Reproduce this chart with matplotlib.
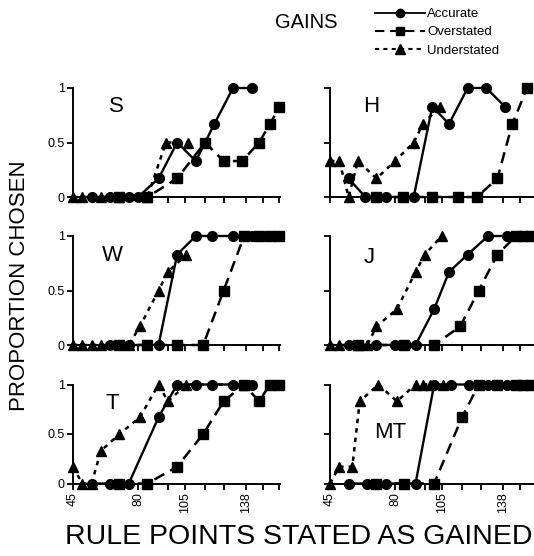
import matplotlib
matplotlib.use("Agg")
import matplotlib.pyplot as plt

plt.rcParams['font.family'] = ['Liberation Sans', 'DejaVu Sans']

# ---- data (rule points stated as gained, proportion chosen) ----
panels = ["S", "H", "W", "J", "T", "MT"]

acc_x = {
    "S": [55, 65, 75, 80, 91, 101, 111, 121, 131, 141],
    "H": [55, 64, 75, 90, 100, 109, 119, 129, 139],
    "W": [65, 75, 85, 91, 101, 111, 120, 131, 141],
    "J": [55, 70, 80, 86, 91, 101, 109, 119, 130, 140],
    "T": [55, 65, 75, 91, 101, 111, 120, 131, 141],
    "MT": [55, 65, 75, 91, 101, 110, 120, 130, 140],
}
acc_y = {
    "S": [0, 0, 0, 0, 0.17, 0.5, 0.33, 0.67, 1, 1],
    "H": [0.17, 0, 0, 0, 0.83, 0.67, 1, 1, 0.83],
    "W": [0, 0, 0, 0, 0.83, 1, 1, 1, 1],
    "J": [0, 0, 0, 0, 0, 0.33, 0.67, 0.83, 1, 1],
    "T": [0, 0, 0, 0.67, 1, 1, 1, 1, 1],
    "MT": [0, 0, 0, 0, 1, 1, 1, 1, 1],
}

over_x = {
    "S": [70, 85, 101, 116, 126, 136, 145, 151, 156],
    "H": [70, 84, 100, 114, 124, 135, 143, 151],
    "W": [70, 85, 101, 115, 126, 137, 145, 151, 156],
    "J": [60, 85, 101, 115, 125, 135, 145, 149, 153],
    "T": [70, 85, 101, 115, 126, 137, 145, 151, 156],
    "MT": [70, 85, 101, 116, 125, 135, 145, 149, 153],
}
over_y = {
    "S": [0, 0, 0.17, 0.5, 0.33, 0.33, 0.5, 0.67, 0.83],
    "H": [0, 0, 0, 0, 0, 0.17, 0.67, 1],
    "W": [0, 0, 0, 0, 0.5, 1, 1, 1, 1],
    "J": [0, 0, 0, 0.17, 0.5, 0.83, 1, 1, 1],
    "T": [0, 0, 0.17, 0.5, 0.83, 1, 0.83, 1, 1],
    "MT": [0, 0, 0, 0.67, 1, 1, 1, 1, 1],
}

under_x = {
    "S": [45, 50, 60, 70, 85, 95, 107],
    "H": [45, 50, 55, 60, 70, 80, 90, 95, 104],
    "W": [45, 50, 55, 60, 75, 81, 91, 96, 106],
    "J": [45, 50, 60, 65, 70, 81, 91, 96, 105],
    "T": [45, 50, 55, 60, 70, 81, 91, 96, 106, 137],
    "MT": [45, 50, 57, 61, 71, 81, 91, 95, 99, 106],
}
under_y = {
    "S": [0, 0, 0, 0, 0, 0.5, 0.5],
    "H": [0.33, 0.33, 0, 0.33, 0.17, 0.33, 0.5, 0.67, 0.83],
    "W": [0, 0, 0, 0, 0, 0.17, 0.5, 0.67, 0.83],
    "J": [0, 0, 0, 0, 0.17, 0.33, 0.67, 0.83, 1],
    "T": [0.17, 0, 0, 0.33, 0.5, 0.67, 1, 0.83, 1, 1],
    "MT": [0, 0.17, 0.17, 0.83, 1, 0.83, 1, 1, 1, 1],
}

xticks_major = [45, 80, 105, 138]
xticks_minor = [86, 96, 116, 126, 147, 156]
yticks = [0, 0.5, 1]
ytick_labels = ["0", "0.5", "1"]

W, H = 534, 556
fig = plt.figure(figsize=(W / 100, H / 100), dpi=100)

# axes boxes in pixels: (left, y of 0, y of 1)
cols = [73, 330]
rows = [(197, 88), (345, 236), (483.5, 384.5)]
axw = 207

label_pos = {"S": (0.21, 0.83), "H": (0.2, 0.83), "W": (0.19, 0.82),
             "J": (0.19, 0.8), "T": (0.19, 0.81), "MT": (0.29, 0.52)}

for i, name in enumerate(panels):
    r, c = divmod(i, 2)
    y0, y1 = rows[r]
    ax = fig.add_axes([cols[c] / W, 1 - y0 / H, axw / W, (y0 - y1) / H])
    ax.plot(acc_x[name], acc_y[name], '-', color='black', lw=1.7,
            marker='o', ms=7, clip_on=False, zorder=4)
    ax.plot(over_x[name], over_y[name], color='black', lw=1.8, dashes=(4.5, 2.7),
            marker='s', ms=6.5, clip_on=False, zorder=3)
    ax.plot(under_x[name], under_y[name], color='black', lw=1.8, dashes=(1.8, 2),
            marker='^', ms=7.5, clip_on=False, zorder=3)
    ax.set_xlim(45, 156.3)
    ax.set_ylim(0, 1)
    for s in ['top', 'right']:
        ax.spines[s].set_visible(False)
    ax.spines['left'].set_linewidth(1.4)
    ax.spines['bottom'].set_linewidth(1.4)
    ax.set_yticks(yticks)
    ax.set_xticks(xticks_major)
    ax.set_xticks(xticks_minor, minor=True)
    ax.tick_params(axis='both', which='both', length=4, width=1.3,
                   labelsize=9, pad=2)
    if c == 0:
        ax.set_yticklabels(ytick_labels)
    else:
        ax.set_yticklabels([])
    if r == 2:
        ax.set_xticklabels([str(t) for t in xticks_major], rotation=90)
    else:
        ax.set_xticklabels([])
    lx, ly = label_pos[name]
    ax.text(lx, ly, name, transform=ax.transAxes, fontsize=16,
            ha='center', va='center')

fig.text(306 / W, 1 - 22 / H, "GAINS", fontsize=14.5, ha='center', va='center')
fig.text(20 / W, 1 - 286 / H, "PROPORTION CHOSEN", fontsize=16,
         rotation=90, ha='center', va='center')
fig.text(299 / W, 1 - 537 / H, "RULE POINTS STATED AS GAINED", fontsize=20.5,
         ha='center', va='center')

h1, = plt.plot([], [], '-', color='black', lw=1.3, marker='o', ms=6)
h2, = plt.plot([], [], color='black', lw=1.5, dashes=(4.5, 2.7), marker='s', ms=5.5)
h3, = plt.plot([], [], color='black', lw=1.5, dashes=(2, 2), marker='^', ms=6.5)
fig.legend([h1, h2, h3], ["Accurate", "Overstated", "Understated"],
           loc='upper left', bbox_to_anchor=(375 / W, 1 - 8 / H),
           frameon=False, fontsize=9.5, handlelength=3.8, handletextpad=0.15,
           labelspacing=0.45, borderaxespad=0, borderpad=0)

fig.savefig("out.png", dpi=100)
